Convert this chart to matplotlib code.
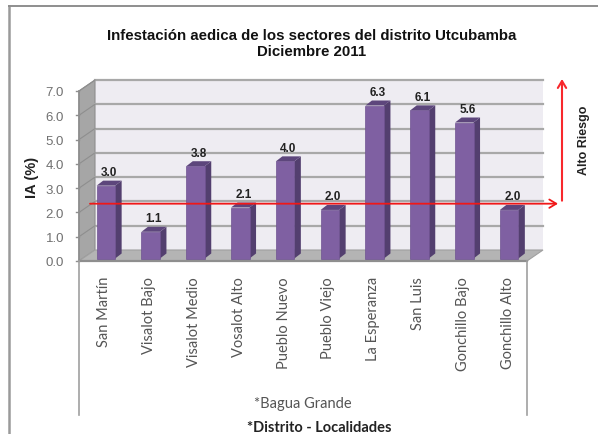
import numpy as np
import matplotlib
matplotlib.use("Agg")
import matplotlib.pyplot as plt
from matplotlib.patches import Polygon

# values
localidades = ['San Martín', 'Visalot Bajo', 'Visalot Medio', 'Vosalot Alto', 'Pueblo Nuevo',
               'Pueblo Viejo', 'La Esperanza', 'San Luis', 'Gonchillo Bajo', 'Gonchillo Alto']
ia = [3.0, 1.1, 3.8, 2.1, 4.0, 2.0, 6.3, 6.1, 5.6, 2.0]
yticks = [0, 1, 2, 3, 4, 5, 6, 7]
umbral = 2.36

W, H = 598, 435
plt.rcParams['font.family'] = ['Liberation Sans']
fig = plt.figure(figsize=(W/100, H/100), dpi=100)

# axes = front plane of the excel 3d chart
ax = fig.add_axes([79/W, 1-262/H, 448/W, 170/H])
ax.set_xlim(-0.5, 9.5)
ax.set_ylim(0, 7)
ax.axis('off')

px = 448/10   # pixels per category
py = 170/7    # pixels per unit
wall_x, wall_y = 16/px, 11/py   # depth of walls
bar_dx, bar_dy = 6.5/px, 5/py   # depth of bars
bar_w = 18.5/px
bar_shift = 4.5/px
base = 2.5/py     # bars stand on the floor, above the front edge

# frame around the chart, only top and left show
fig.add_artist(plt.Line2D([9/W, 9/W], [0, 1-6.5/H], color='#9a9a9a', lw=1.8))
fig.add_artist(plt.Line2D([9/W, 1], [1-6.5/H, 1-6.5/H], color='#8e8e8e', lw=1.4))

# back wall, side wall, floor
ax.add_patch(Polygon([(-0.5+wall_x, wall_y), (9.5+wall_x, wall_y), (9.5+wall_x, 7+wall_y), (-0.5+wall_x, 7+wall_y)],
                     fc='#eeecf2', ec='none', clip_on=False))
ax.add_patch(Polygon([(-0.5, 0), (-0.5+wall_x, wall_y), (-0.5+wall_x, 7+wall_y), (-0.5, 7)],
                     fc='#a6a6a6', ec='#8e8e8e', lw=0.8, clip_on=False))
ax.add_patch(Polygon([(-0.5, 0), (9.5, 0), (9.5+wall_x, wall_y), (-0.5+wall_x, wall_y)],
                     fc='#b4b4b4', ec='#a0a0a0', lw=0.8, clip_on=False))
for t in yticks[1:]:
    ax.plot([-0.5+wall_x, 9.5+wall_x], [t+wall_y, t+wall_y], color='#a8a8a8', lw=1.6, clip_on=False)
    ax.plot([-0.5, -0.5+wall_x], [t, t+wall_y], color='#8e8e8e', lw=0.8, clip_on=False)

# y axis with ticks and labels
ax.plot([-0.5, -0.5], [0, 7], color='#8e8e8e', lw=1.2, clip_on=False)
ax.plot([-0.5, 9.5], [0, 0], color='#8e8e8e', lw=1.6, clip_on=False)
for t in yticks:
    ax.plot([-0.5-3/px, -0.5], [t, t], color='#8e8e8e', lw=1, clip_on=False)
    ax.text(-0.5-15/px, t, '%.1f' % t, ha='right', va='center_baseline', fontsize=9.5, color='#707070')

# axis lines that run down past the category labels
ax.plot([-0.5, -0.5], [0, -154/py], color='#a0a0a0', lw=1.2, clip_on=False)
ax.plot([9.5, 9.5], [0, -154/py], color='#a0a0a0', lw=1.2, clip_on=False)

# bars
for i, v in enumerate(ia):
    x0 = i - bar_w/2 + bar_shift
    x1 = x0 + bar_w
    top = base + v
    ax.add_patch(Polygon([(x1, base), (x1+bar_dx, base+bar_dy), (x1+bar_dx, top+bar_dy), (x1, top)],
                         fc='#533f6f', ec='none', clip_on=False, zorder=3))
    ax.add_patch(Polygon([(x0, top), (x1, top), (x1+bar_dx, top+bar_dy), (x0+bar_dx, top+bar_dy)],
                         fc='#5d467c', ec='none', clip_on=False, zorder=3))
    ax.bar(i+bar_shift, v, bottom=base, width=bar_w, color='#7f60a2', edgecolor='#6f5391', linewidth=0.5,
           clip_on=False, zorder=3)
    ax.text(i+bar_shift+bar_dx/2, top+bar_dy+0.1, '%.1f' % v, ha='center', va='bottom', fontsize=8.5,
            fontweight='bold', color='#222222', zorder=5)

# category labels
for i, nom in enumerate(localidades):
    ax.text(i+3/px, -15/py, nom, rotation=90, ha='center', va='top', fontsize=10.5, family='Lato', color='#555555')

# risk line and arrow
ax.annotate('', xy=(9.5+31/px, umbral), xytext=(-0.5+11/px, umbral), zorder=6, annotation_clip=False,
            arrowprops=dict(arrowstyle='->,head_length=0.5,head_width=0.3', color='#f01818', lw=1.3, shrinkA=0, shrinkB=0))
ax.annotate('', xy=(9.5+35/px, 7+12/py), xytext=(9.5+35/px, umbral+3/py), annotation_clip=False,
            arrowprops=dict(arrowstyle='->,head_length=0.5,head_width=0.3', color='#f8282c', lw=1.5, shrinkA=0, shrinkB=0))

fig.text(584.5/W, 1-140/H, 'Alto Riesgo', rotation=90, ha='center', va='center', fontsize=9, fontweight='bold', color='#222222')
fig.text(312/W, 1-44/H, 'Infestación aedica de los sectores del distrito Utcubamba\nDiciembre 2011', ha='center', va='center',
         fontsize=10.8, fontweight='bold', color='#111111', linespacing=1.1)
fig.text(32/W, 1-177/H, 'IA (%)', rotation=90, ha='center', va='center', fontsize=10.5, fontweight='bold', color='#222222')
fig.text(303/W, 1-404/H, '*Bagua Grande', ha='center', va='center', fontsize=10.5, family='Lato', color='#555555')
fig.text(319.5/W, 1-428/H, '*Distrito - Localidades', ha='center', va='center', fontsize=10.5, family='Lato',
         fontweight='bold', color='#222222')

fig.savefig('out.png', dpi=100)
